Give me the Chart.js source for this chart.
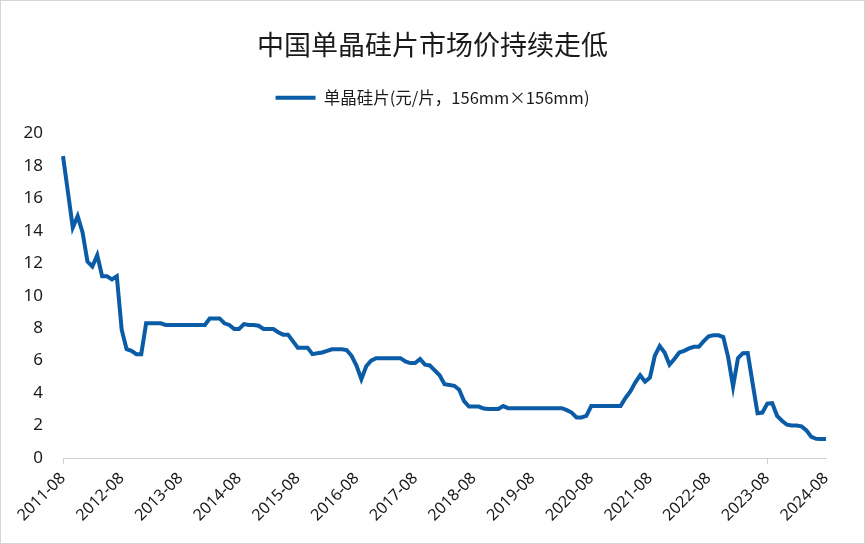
<!DOCTYPE html>
<html>
<head>
<meta charset="utf-8">
<script src="https://cdn.jsdelivr.net/npm/chart.js@4.4.0/dist/chart.umd.min.js"></script>
<style>
  html, body { margin: 0; padding: 0; background: #fff; }
  #wrap { width: 865px; height: 544px; box-sizing: border-box; border: 1px solid #d6d6d6; position: relative; }
  canvas { display: block; }
</style>
</head>
<body>
<div id="wrap"><canvas id="chart"></canvas></div>
<script>
const chartTitle = "中国单晶硅片市场价持续走低";
const seriesName = "单晶硅片(元/片，156mm×156mm)";

// monthly, starting 2011-08 (one row per year, Aug..Jul)
const prices = [
  18.6, 16.4, 14.2, 14.9, 13.9, 12.1, 11.8, 12.5, 11.2, 11.2, 11.0, 11.2,
  7.9, 6.7, 6.6, 6.4, 6.4, 8.3, 8.3, 8.3, 8.3, 8.2, 8.2, 8.2,
  8.2, 8.2, 8.2, 8.2, 8.2, 8.2, 8.6, 8.6, 8.6, 8.3, 8.2, 7.95,
  7.95, 8.25, 8.2, 8.2, 8.15, 7.95, 7.95, 7.95, 7.75, 7.6, 7.6, 7.2,
  6.8, 6.8, 6.8, 6.4, 6.45, 6.5, 6.6, 6.7, 6.7, 6.7, 6.65, 6.3,
  5.7, 4.85, 5.65, 6.0, 6.15, 6.15, 6.15, 6.15, 6.15, 6.15, 5.95, 5.85,
  5.85, 6.1, 5.75, 5.7, 5.4, 5.1, 4.55, 4.5, 4.45, 4.2, 3.5, 3.17,
  3.17, 3.17, 3.05, 3.02, 3.02, 3.02, 3.2, 3.07, 3.07, 3.07, 3.07, 3.07,
  3.07, 3.07, 3.07, 3.07, 3.07, 3.07, 3.07, 2.95, 2.8, 2.5, 2.5, 2.6,
  3.2, 3.2, 3.2, 3.2, 3.2, 3.2, 3.2, 3.7, 4.1, 4.65, 5.1, 4.7,
  4.95, 6.3, 6.9, 6.5, 5.75, 6.1, 6.5, 6.6, 6.75, 6.85, 6.85, 7.2,
  7.5, 7.56, 7.56, 7.45, 6.2, 4.4, 6.15, 6.45, 6.46, 4.6, 2.76, 2.8,
  3.35, 3.38, 2.6, 2.3, 2.05, 2.0, 2.0, 1.95, 1.7, 1.3, 1.18, 1.17,
  1.17
];

// month labels 2011-08 .. 2024-08
const months = [];
for (let i = 0; i < prices.length; i++) {
    const m = 7 + i;
    const y = 2011 + Math.floor(m / 12);
    months.push(y + "-" + String(m % 12 + 1).padStart(2, "0"));
}

const yTicks = { min: 0, max: 20, step: 2 };
const lineColor = "#0b5ca6";
const cjk = '"Noto Sans CJK SC", "Noto Sans", sans-serif';
const num = '"Noto Sans", "Noto Sans CJK SC", sans-serif';

// give the legend a fixed height so the plot starts where the original does
const legendSpace = {
    id: "legendSpace",
    beforeInit(chart) {
        const fit = chart.legend.fit;
        chart.legend.fit = function () {
            fit.call(this);
            this.height = 48;
        };
    }
};

new Chart(document.getElementById("chart").getContext("2d"), {
    type: "line",
    data: {
        labels: months,
        datasets: [{
            label: seriesName,
            data: prices,
            borderColor: lineColor,
            backgroundColor: lineColor,
            borderWidth: 4,
            pointRadius: 0,
            tension: 0
        }]
    },
    options: {
        responsive: true,
        maintainAspectRatio: false,
        animation: false,
        layout: { padding: { left: 12, right: 12, top: 0, bottom: 0 } },
        plugins: {
            title: {
                display: true,
                text: chartTitle,
                color: "#1a1a1a",
                font: { family: cjk, size: 27, weight: "normal" },
                padding: { top: 28, bottom: 24 }
            },
            legend: {
                position: "top",
                labels: {
                    usePointStyle: true,
                    pointStyle: "line",
                    pointStyleWidth: 40,
                    color: "#1a1a1a",
                    font: { family: cjk, size: 16.5 },
                    padding: 4
                }
            },
            tooltip: { enabled: false }
        },
        scales: {
            x: {
                type: "category",
                afterFit(scale) {
                    scale.paddingLeft = 0;
                    scale.paddingRight = 38;
                    scale.height = 85;
                },
                grid: {
                    display: true,
                    drawOnChartArea: false,
                    drawTicks: true,
                    tickLength: 6,
                    color: ctx => (months[ctx.index] || "").endsWith("-08") ? "#d0d0d0" : "rgba(0,0,0,0)"
                },
                border: { display: true, color: "#d0d0d0", width: 1 },
                ticks: {
                    autoSkip: false,
                    maxRotation: 45,
                    minRotation: 45,
                    color: "#1a1a1a",
                    font: { family: num, size: 16 },
                    padding: 5,
                    callback: (v, i) => months[i].endsWith("-08") ? months[i] : null
                }
            },
            y: {
                min: yTicks.min,
                max: yTicks.max,
                afterFit(scale) {
                    scale.width = 50;
                },
                grid: { display: false, drawTicks: false },
                border: { display: false },
                ticks: {
                    stepSize: yTicks.step,
                    color: "#1a1a1a",
                    font: { family: num, size: 17 },
                    padding: 20
                }
            }
        }
    },
    plugins: [legendSpace]
});
</script>
</body>
</html>
